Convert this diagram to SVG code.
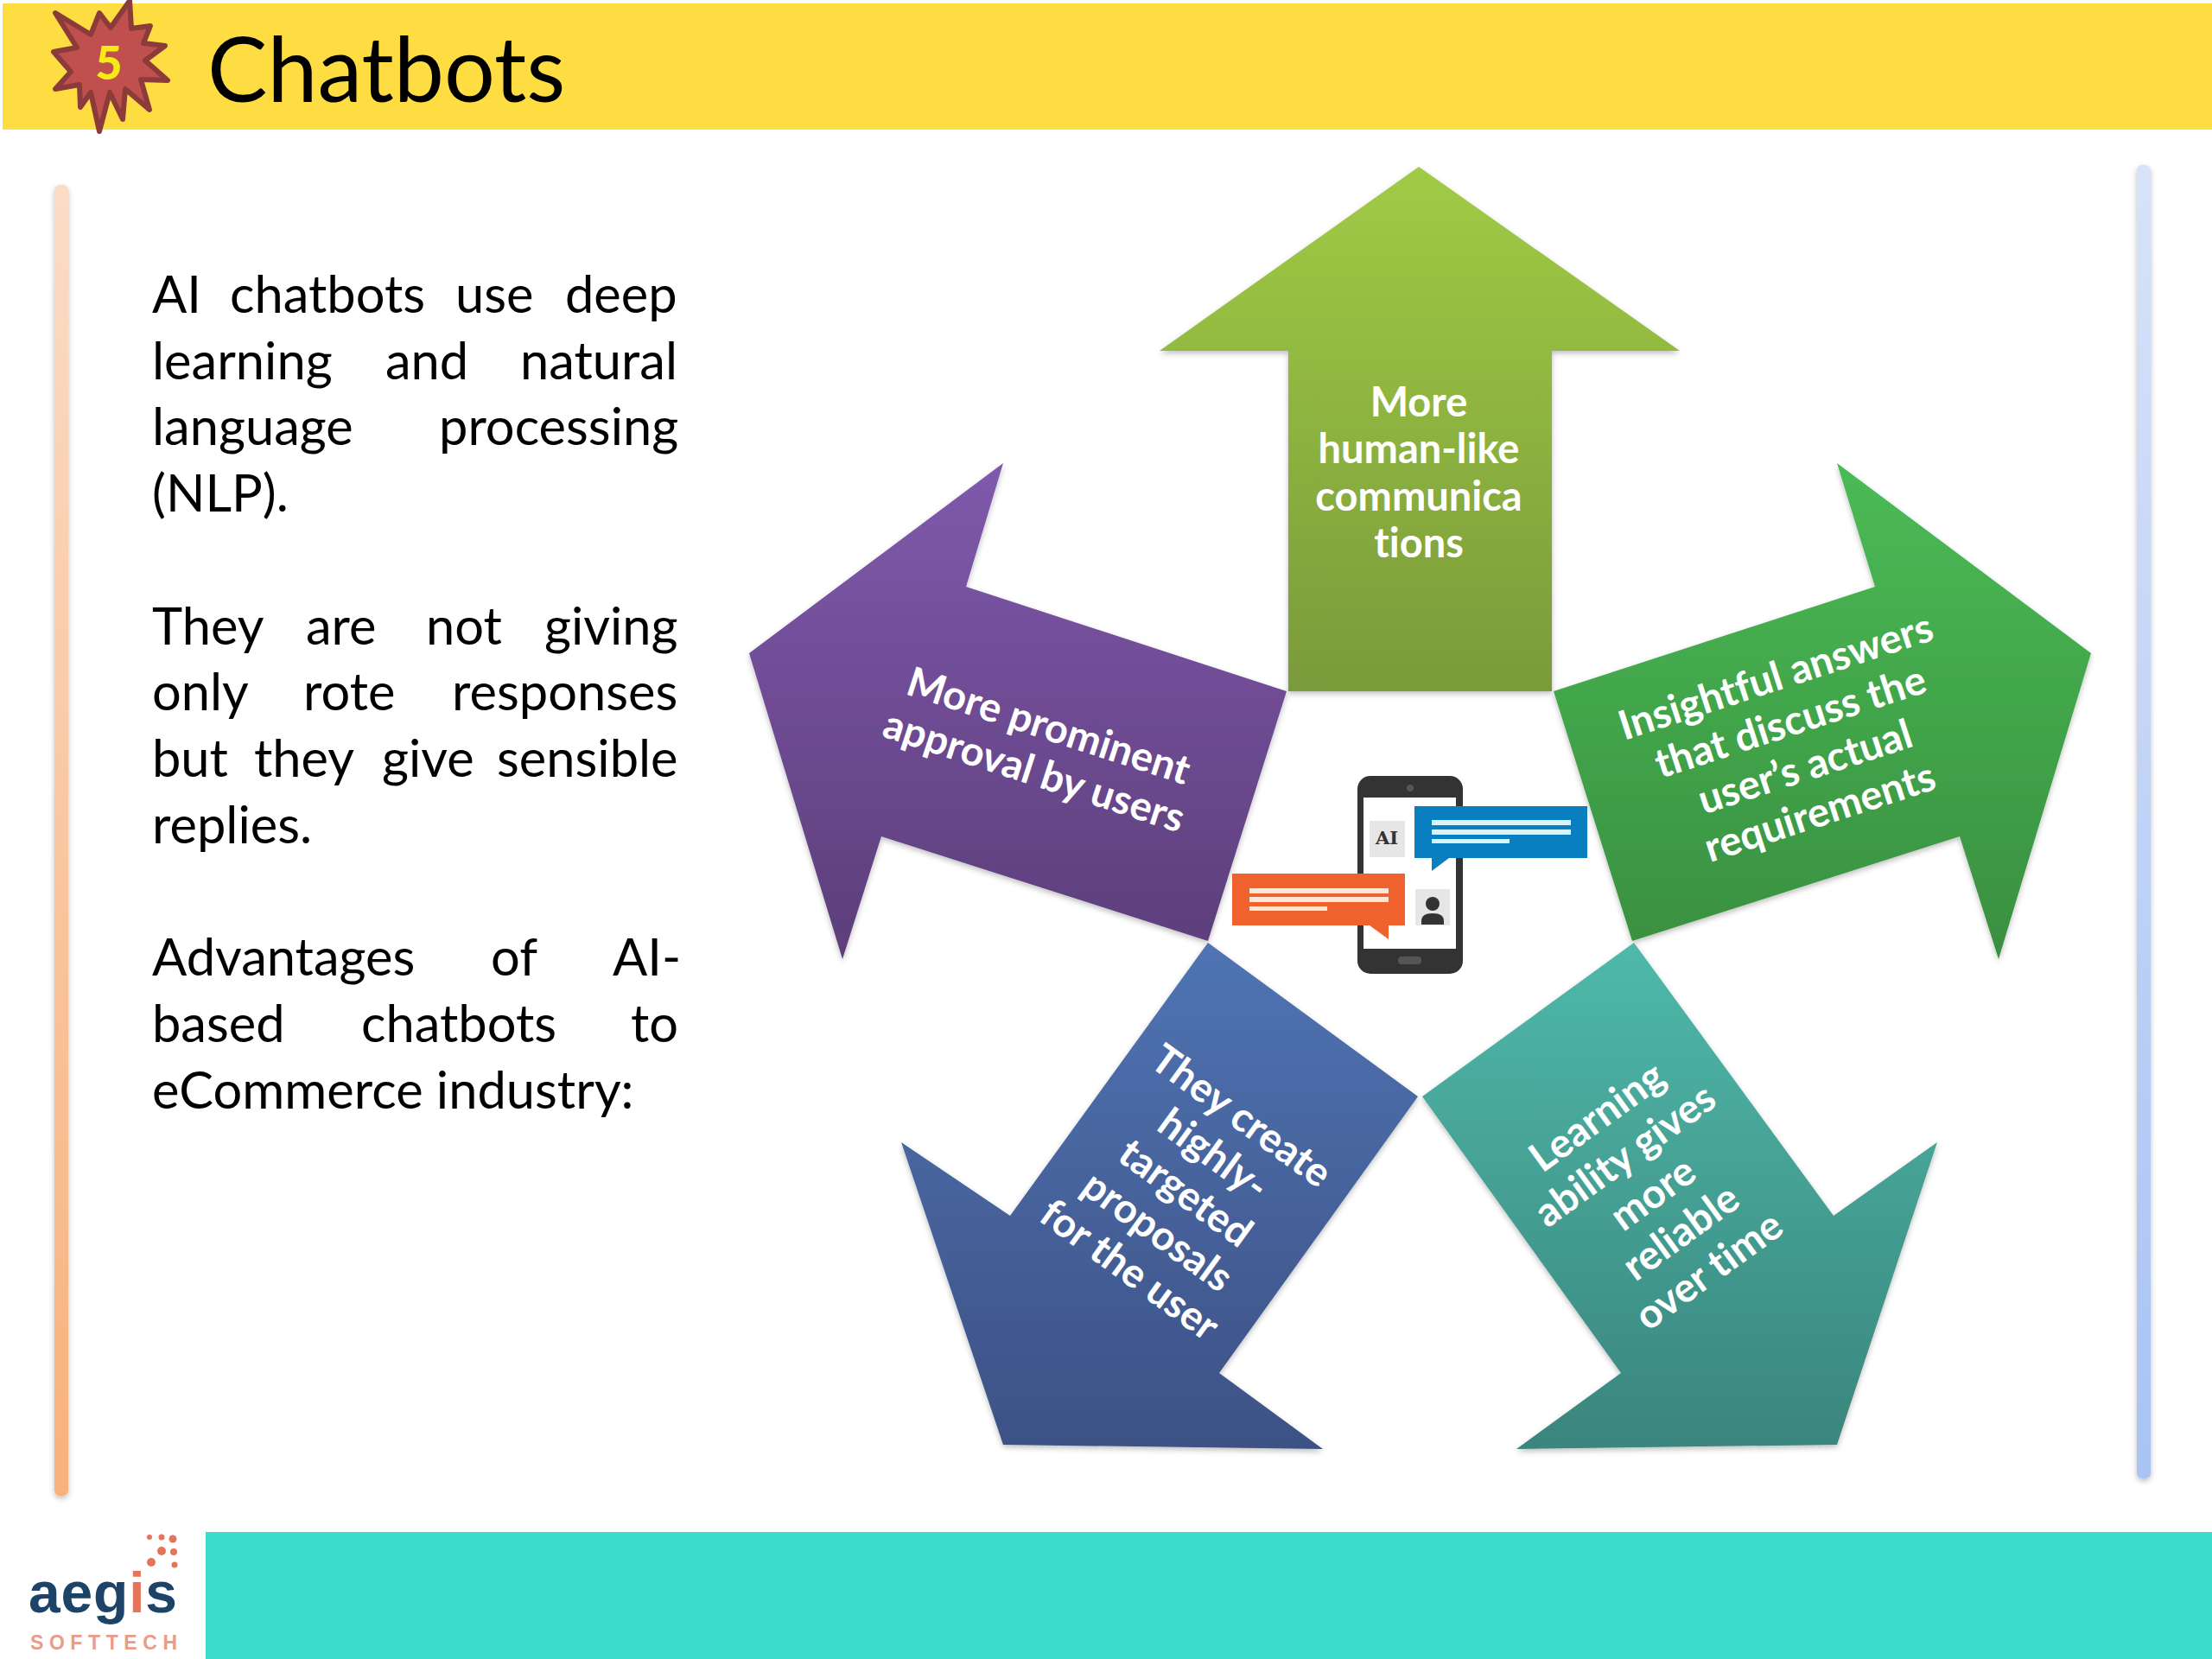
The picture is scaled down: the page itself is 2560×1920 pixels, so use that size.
<svg xmlns="http://www.w3.org/2000/svg" width="2560" height="1920" viewBox="0 0 2560 1920">
<style>
text{font-variant-ligatures:none}
.body{font-family:"Lato","Liberation Sans",sans-serif;font-size:59.6px;fill:#000}
.lab{font-family:"Lato","Liberation Sans",sans-serif;font-size:47px;font-weight:700;fill:#fff;text-anchor:middle}
.arrow{filter:url(#sh)}
</style>
<defs>
<filter id="sh" x="-5%" y="-5%" width="110%" height="110%"><feDropShadow dx="0" dy="3" stdDeviation="3" flood-color="#000" flood-opacity=".25"/></filter>
<linearGradient id="gTop" x1="0" y1="0" x2="0" y2="1"><stop offset="0" stop-color="#a0cb45"/><stop offset="1" stop-color="#7a9a3a"/></linearGradient>
<linearGradient id="gGreen" x1="0" y1="0" x2="0" y2="1"><stop offset="0" stop-color="#4bbb55"/><stop offset="1" stop-color="#398f40"/></linearGradient>
<linearGradient id="gPurple" x1="0" y1="0" x2="0" y2="1"><stop offset="0" stop-color="#8059ac"/><stop offset="1" stop-color="#5c3e7a"/></linearGradient>
<linearGradient id="gBlue" x1="0" y1="0" x2="0" y2="1"><stop offset="0" stop-color="#4f74b3"/><stop offset="1" stop-color="#3d5184"/></linearGradient>
<linearGradient id="gTeal" x1="0" y1="0" x2="0" y2="1"><stop offset="0" stop-color="#4fb9a9"/><stop offset="1" stop-color="#3a857d"/></linearGradient>
<linearGradient id="gL" x1="0" y1="0" x2="0" y2="1"><stop offset="0" stop-color="#fbdcc6"/><stop offset="1" stop-color="#f7b27c"/></linearGradient>
<linearGradient id="gR" x1="0" y1="0" x2="0" y2="1"><stop offset="0" stop-color="#d8e2f9"/><stop offset="1" stop-color="#a9c3f3"/></linearGradient>
</defs>
<rect width="2560" height="1920" fill="#fff"/>
<g id="header">
<rect x="3" y="4" width="2557" height="146" fill="#fddd42"/>
<polygon points="150,1 152,33 174,30 166,50 191,53 168,70 194,93 163,92 173,127 145,103 142,138 127,107 115,152 105,107 93,124 92,98 64,103 82,83 62,60 89,55 64,15 105,40 115,15 128,32" fill="#c0504d" stroke="#8c3b3b" stroke-width="6" stroke-linejoin="round"/>
<text x="126" y="92" font-family="Lato,'Liberation Sans',sans-serif" font-weight="900" font-size="54" fill="#f6ea16" text-anchor="middle">5</text>
<text x="240" y="118" font-family="Lato,'Liberation Sans',sans-serif" font-size="104" fill="#000">Chatbots</text>
</g>
<g id="sidebars" filter="url(#sh)">
<rect x="63" y="214" width="16" height="1517" rx="6" fill="url(#gL)"/>
<rect x="2473" y="191" width="16" height="1520" rx="6" fill="url(#gR)"/>
</g>
<g id="bodytext" class="body">
<text y="362"><tspan x="176">AI</tspan> <tspan x="266">chatbots</tspan> <tspan x="527">use</tspan> <tspan x="654">deep</tspan></text>
<text y="439"><tspan x="176">learning</tspan> <tspan x="446">and</tspan> <tspan x="602">natural</tspan></text>
<text y="515"><tspan x="176">language</tspan> <tspan x="508">processing</tspan></text>
<text y="592" x="176">(NLP).</text>
<text y="746"><tspan x="176">They</tspan> <tspan x="354">are</tspan> <tspan x="493">not</tspan> <tspan x="630">giving</tspan></text>
<text y="822"><tspan x="176">only</tspan> <tspan x="351">rote</tspan> <tspan x="523">responses</tspan></text>
<text y="899"><tspan x="176">but</tspan> <tspan x="294">they</tspan> <tspan x="442">give</tspan> <tspan x="575">sensible</tspan></text>
<text y="976" x="176">replies.</text>
<text y="1129"><tspan x="176">Advantages</tspan> <tspan x="568">of</tspan> <tspan x="709">AI-</tspan></text>
<text y="1206"><tspan x="176">based</tspan> <tspan x="418">chatbots</tspan> <tspan x="730">to</tspan></text>
<text y="1283" x="176">eCommerce industry:</text>
</g>
<g id="node-top">
<polygon class="arrow" fill="url(#gTop)" points="1642,193 1944,406 1796,406 1796,800 1491,800 1491,406 1342,406"/>
<g class="lab"><text x="1642" y="482">More</text><text x="1642" y="536">human-like</text><text x="1642" y="591">communica</text><text x="1642" y="645">tions</text></g>
</g>
<g id="node-right">
<polygon class="arrow" fill="url(#gGreen)" points="1798,800 2170,679 2126,536 2420,756 2313,1110 2268,968 1889,1089"/>
<g class="lab" transform="translate(2081,863) rotate(-18)"><text y="-68">Insightful answers</text><text y="-13">that discuss the</text><text y="42">user’s actual</text><text y="97">requirements</text></g>
</g>
<g id="node-left">
<polygon class="arrow" fill="url(#gPurple)" points="1489,800 1118,679 1161,536 867,756 975,1110 1020,968 1398,1089"/>
<g class="lab" transform="translate(1205,867) rotate(18)"><text y="-12">More prominent</text><text y="43">approval by users</text></g>
</g>
<g id="node-bottom-right">
<polygon class="arrow" fill="url(#gTeal)" points="1891,1091 2122,1407 2242,1322 2126,1672 1755,1677 1876,1589 1646,1269"/>
<g class="lab" transform="translate(1930,1405) rotate(-36)"><text y="-123">Learning</text><text y="-68">ability gives</text><text y="-13">more</text><text y="42">reliable</text><text y="97">over time</text></g>
</g>
<g id="node-bottom-left">
<polygon class="arrow" fill="url(#gBlue)" points="1398,1091 1641,1269 1411,1589 1531,1677 1161,1672 1043,1322 1169,1407"/>
<g class="lab" transform="translate(1355,1404) rotate(36)"><text y="-123">They create</text><text y="-68">highly-</text><text y="-13">targeted</text><text y="42">proposals</text><text y="97">for the user</text></g>
</g>
<g id="phone">
<rect x="1571" y="898" width="122" height="229" rx="15" fill="#333"/>
<rect x="1578" y="923" width="107" height="175" fill="#fff"/>
<circle cx="1632" cy="912" r="4" fill="#555"/>
<rect x="1618" y="1107" width="27" height="9" rx="4" fill="#555"/>
<rect x="1585" y="950" width="41" height="42" fill="#e6e6e6"/>
<text x="1605" y="977" font-family="'DejaVu Serif',serif" font-weight="700" font-size="21" fill="#333" text-anchor="middle">AI</text>
<rect x="1638" y="1029" width="40" height="42" fill="#e6e6e6"/>
<circle cx="1658" cy="1046" r="8" fill="#333"/>
<path d="M1645 1070v-4q0-9 13-9t13 9v4z" fill="#333"/>
<path d="M1637 933h200v60h-160l-20 15v-15h-20z" fill="#0a7fc0"/>
<rect x="1657" y="949" width="161" height="6" fill="#d9f3fb"/><rect x="1657" y="960" width="161" height="6" fill="#d9f3fb"/><rect x="1657" y="971" width="90" height="5" fill="#d9f3fb"/>
<path d="M1426 1011h200v60h-19v16l-22-16h-159z" fill="#f0622d"/>
<rect x="1446" y="1028" width="161" height="6" fill="#ffe6d6"/><rect x="1446" y="1038" width="161" height="6" fill="#ffe6d6"/><rect x="1446" y="1049" width="90" height="5" fill="#ffe6d6"/>
</g>
<g id="footer">
<rect x="238" y="1773" width="2322" height="147" fill="#3bdccb"/>
<text x="33" y="1866" font-family="'Liberation Sans',sans-serif" font-weight="700" font-size="66" fill="#1d4468" textLength="172" lengthAdjust="spacing">aeg<tspan fill="#e5745c">i</tspan>s</text>
<text x="35" y="1909" font-family="'Liberation Sans',sans-serif" font-weight="700" font-size="23" fill="#e99c8a" textLength="170" lengthAdjust="spacing">SOFTTECH</text>
<g fill="#e5745c"><circle cx="173" cy="1779" r="3"/><circle cx="187" cy="1779" r="3.5"/><circle cx="200" cy="1781" r="4.5"/><circle cx="187" cy="1795" r="5"/><circle cx="201" cy="1796" r="4"/><circle cx="175" cy="1808" r="5"/><circle cx="202" cy="1811" r="3.5"/></g>
</g>
</svg>
